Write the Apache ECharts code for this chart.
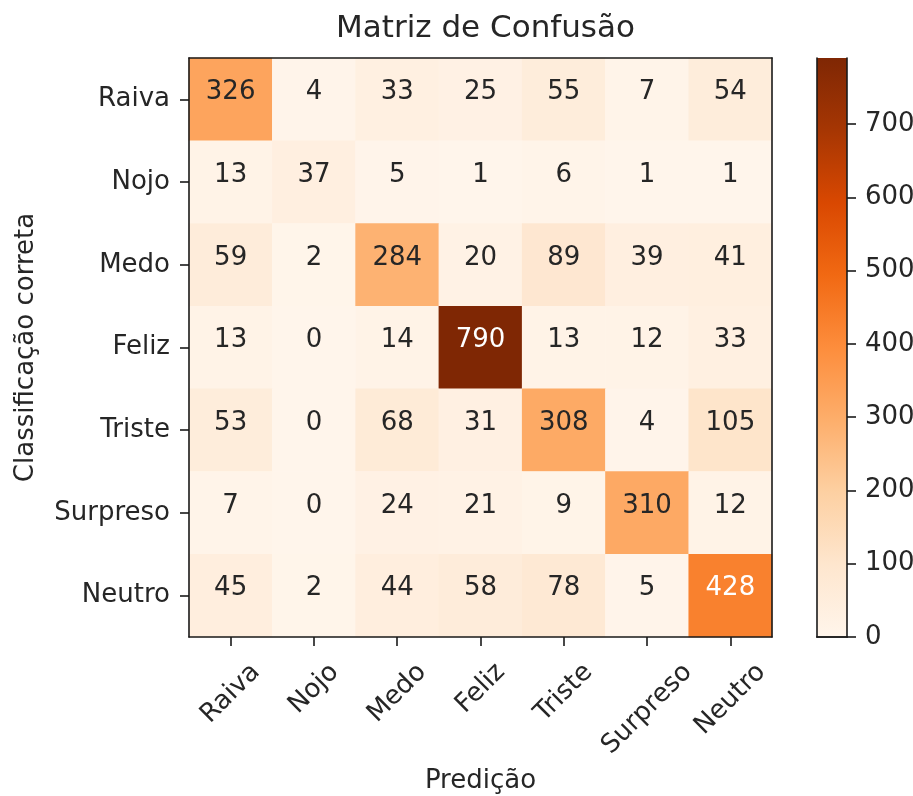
<!DOCTYPE html>
<html><head><meta charset="utf-8">
<script src="https://cdn.jsdelivr.net/npm/echarts@6/dist/echarts.min.js"></script>
<style>html,body{margin:0;padding:0;background:#fff}#c{width:913px;height:796px}</style>
</head><body><div id="c"></div>
<script>
const titleText = 'Matriz de Confusão';
const xName = 'Predição';
const yName = 'Classificação correta';
const predLabels = ['Raiva','Nojo','Medo','Feliz','Triste','Surpreso','Neutro'];
const trueLabels = ['Raiva','Nojo','Medo','Feliz','Triste','Surpreso','Neutro'];
const rowRaiva    = [326, 4, 33, 25, 55, 7, 54];
const rowNojo     = [13, 37, 5, 1, 6, 1, 1];
const rowMedo     = [59, 2, 284, 20, 89, 39, 41];
const rowFeliz    = [13, 0, 14, 790, 13, 12, 33];
const rowTriste   = [53, 0, 68, 31, 308, 4, 105];
const rowSurpreso = [7, 0, 24, 21, 9, 310, 12];
const rowNeutro   = [45, 2, 44, 58, 78, 5, 428];
const colorbarMin = 0;
const colorbarMax = 790;
const colorbarTicks = [0, 100, 200, 300, 400, 500, 600, 700];
const orangesColors = ['#fff5eb','#fee6ce','#fdd0a2','#fdae6b','#fd8d3c','#f16913','#d94801','#a63603','#7f2704'];

const matrix = [rowRaiva, rowNojo, rowMedo, rowFeliz, rowTriste, rowSurpreso, rowNeutro];
const FONT = 'DejaVu Sans';
const FS = 26;
const LH = 30;
const TXT = '#262626';
const thresh = colorbarMax / 2;

const heatData = [];
matrix.forEach((row, i) => row.forEach((v, j) => {
  heatData.push({ value: [j, i, v], label: { color: v > thresh ? '#ffffff' : TXT } });
}));

// emulate matplotlib center-aligned 45° labels: shift each label straight down
const cv = document.createElement('canvas').getContext('2d');
cv.font = FS + 'px "' + FONT + '"';
const xAxisData = predLabels.map(l => {
  const w = cv.measureText(l).width;
  const D = (w + FS) * 0.3536;
  const pt = Math.max(0, D / 1.4142 - LH / 2);
  const pr = 2 * (LH / 2 + pt);
  return { value: l, textStyle: { align: 'center', verticalAlign: 'top', lineHeight: LH,
    padding: [pt, pr, 0, 0], fontFamily: FONT, fontSize: FS, color: TXT } };
});

const gradStops = orangesColors.map((c, k) => ({ offset: k / (orangesColors.length - 1), color: c }));
const axisLineStyle = { color: '#1a1a1a', width: 1.6 };

const chart = echarts.init(document.getElementById('c'), null, { renderer: 'canvas' });
chart.setOption({
  backgroundColor: '#ffffff',
  animation: false,
  textStyle: { fontFamily: FONT },
  title: {
    text: titleText, left: 480.5, top: 8, textAlign: 'center',
    textStyle: { fontFamily: FONT, fontSize: 31, fontWeight: 'normal', color: TXT }
  },
  grid: [
    { left: 189, top: 58, width: 583, height: 579, containLabel: false, outerBoundsMode: 'none' },
    { left: 817, top: 58, width: 30, height: 579, containLabel: false, outerBoundsMode: 'none' }
  ],
  xAxis: [
    {
      gridIndex: 0, type: 'category', data: xAxisData, position: 'bottom', z: 10,
      name: xName, nameLocation: 'middle', nameGap: 131, nameMoveOverlap: false,
      nameTextStyle: { fontFamily: FONT, fontSize: FS, color: TXT },
      axisLine: { show: true, lineStyle: axisLineStyle },
      axisTick: { show: true, alignWithLabel: true, length: 9, lineStyle: axisLineStyle },
      axisLabel: { interval: 0, rotate: 45, margin: 22, fontFamily: FONT, fontSize: FS, color: TXT },
      splitLine: { show: false }
    },
    {
      gridIndex: 0, type: 'category', data: predLabels, position: 'top', z: 10,
      axisLine: { show: true, lineStyle: axisLineStyle },
      axisTick: { show: false }, axisLabel: { show: false }, splitLine: { show: false }
    },
    {
      gridIndex: 1, type: 'category', data: [''], position: 'bottom', z: 10,
      axisLine: { show: true, lineStyle: axisLineStyle },
      axisTick: { show: false }, axisLabel: { show: false }, splitLine: { show: false }
    },
    {
      gridIndex: 1, type: 'category', data: [''], position: 'top', z: 10,
      axisLine: { show: true, lineStyle: axisLineStyle },
      axisTick: { show: false }, axisLabel: { show: false }, splitLine: { show: false }
    }
  ],
  yAxis: [
    {
      gridIndex: 0, type: 'category', data: trueLabels, inverse: true, position: 'left', z: 10,
      name: yName, nameLocation: 'middle', nameGap: 150, nameRotate: 90, nameMoveOverlap: false,
      nameTextStyle: { fontFamily: FONT, fontSize: FS, color: TXT },
      axisLine: { show: true, lineStyle: axisLineStyle },
      axisTick: { show: true, alignWithLabel: true, length: 9, lineStyle: axisLineStyle },
      axisLabel: { interval: 0, margin: 19, fontFamily: FONT, fontSize: FS, color: TXT },
      splitLine: { show: false }
    },
    {
      gridIndex: 0, type: 'category', data: trueLabels, inverse: true, position: 'right', z: 10,
      axisLine: { show: true, lineStyle: axisLineStyle },
      axisTick: { show: false }, axisLabel: { show: false }, splitLine: { show: false }
    },
    {
      gridIndex: 1, type: 'value', min: colorbarMin, max: colorbarMax, interval: 100, position: 'right', z: 10,
      axisLine: { show: true, lineStyle: axisLineStyle },
      axisTick: { show: true, length: 9, lineStyle: axisLineStyle, customValues: colorbarTicks },
      axisLabel: { margin: 18, fontFamily: FONT, fontSize: FS, color: TXT, customValues: colorbarTicks },
      splitLine: { show: false }
    },
    {
      gridIndex: 1, type: 'value', min: colorbarMin, max: colorbarMax, position: 'left', z: 10,
      axisLine: { show: true, lineStyle: axisLineStyle },
      axisTick: { show: false }, axisLabel: { show: false }, splitLine: { show: false }
    }
  ],
  visualMap: {
    show: false, type: 'continuous', seriesIndex: 0, dimension: 2,
    min: colorbarMin, max: colorbarMax, inRange: { color: orangesColors }
  },
  series: [
    {
      type: 'heatmap', xAxisIndex: 0, yAxisIndex: 0, data: heatData,
      label: { show: true, fontFamily: FONT, fontSize: FS, offset: [0, -7], formatter: p => String(p.value[2]) },
      itemStyle: { borderWidth: 0 },
      emphasis: { disabled: true }
    },
    {
      type: 'bar', xAxisIndex: 2, yAxisIndex: 2, data: [colorbarMax], barWidth: '100%',
      itemStyle: { color: new echarts.graphic.LinearGradient(0, 1, 0, 0, gradStops) },
      emphasis: { disabled: true }
    }
  ]
});
</script></body></html>
